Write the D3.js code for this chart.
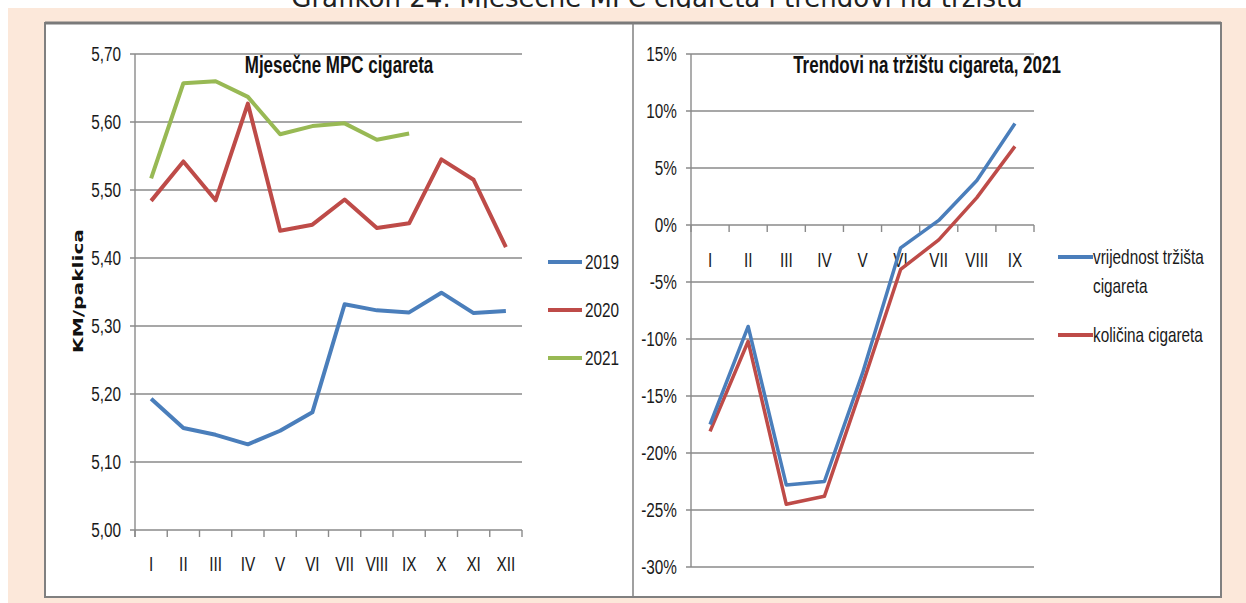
<!DOCTYPE html>
<html>
<head>
<meta charset="utf-8">
<script src="https://cdn.jsdelivr.net/npm/d3@7"></script>
<style>
  html, body { margin: 0; padding: 0; background: #ffffff; }
  svg { display: block; }
</style>
</head>
<body>
<div id="chart"></div>
<script>
// ---------- DATA ----------
const months = ["I","II","III","IV","V","VI","VII","VIII","IX","X","XI","XII"];
const mpc2019 = [5.193,5.150,5.140,5.126,5.146,5.173,5.332,5.323,5.320,5.349,5.319,5.322];
const mpc2020 = [5.484,5.542,5.485,5.627,5.440,5.449,5.486,5.444,5.451,5.545,5.515,5.416];
const mpc2021 = [5.517,5.657,5.660,5.637,5.582,5.594,5.598,5.574,5.583];
const mpcTicks = [5.0,5.1,5.2,5.3,5.4,5.5,5.6,5.7];

const trendMonths = ["I","II","III","IV","V","VI","VII","VIII","IX"];
const marketValue = [-17.5,-8.9,-22.8,-22.5,-13.0,-2.0,0.4,3.9,8.9];
const quantity    = [-18.1,-10.2,-24.5,-23.8,-14.0,-3.9,-1.3,2.4,6.9];
const trendTicks = [-30,-25,-20,-15,-10,-5,0,5,10,15];

const leftSeries = [
  {name:"2019", values: mpc2019, color:"#4a7ebb"},
  {name:"2020", values: mpc2020, color:"#be4b48"},
  {name:"2021", values: mpc2021, color:"#98b954"}
];
const rightSeries = [
  {name:["vrijednost tržišta","cigareta"], values: marketValue, color:"#4a7ebb"},
  {name:["količina cigareta"], values: quantity, color:"#be4b48"}
];

// ---------- SETUP ----------
const W = 1246, H = 603;
const FONT = "'Liberation Sans Narrow','Liberation Sans',Arial,sans-serif";
const SX = 0.82; // condensed look of the original narrow font
const svg = d3.select("#chart").append("svg").attr("width", W).attr("height", H);
const loc = d3.formatLocale({decimal:",", thousands:".", grouping:[3], currency:["",""]});
const fmt2 = loc.format(".2f");
const tf = (x,y,sy=1) => `translate(${x},${y}) scale(${SX},${sy})`;
const TXT = "#1a1a1a";

// header (partially hidden by the panel, as in the original)
svg.append("text").attr("x", 657).attr("y", 7)
  .attr("text-anchor","middle")
  .attr("font-family","'DejaVu Sans',Verdana,sans-serif").attr("font-size", 26)
  .attr("fill","#222")
  .text("Grafikon 24: Mjesečne MPC cigareta i trendovi na tržištu");

svg.append("rect").attr("x",8).attr("y",8).attr("width",W-8).attr("height",H-8).attr("fill","#fce8da");
svg.append("rect").attr("x",45).attr("y",23).attr("width",1176).attr("height",574)
  .attr("fill","#ffffff").attr("stroke","#808080").attr("stroke-width",2);
svg.append("line").attr("x1",45).attr("x2",1221).attr("y1",23).attr("y2",23).attr("stroke","#7a7a7a").attr("stroke-width",3);
svg.append("line").attr("x1",633).attr("x2",633).attr("y1",23).attr("y2",597).attr("stroke","#808080").attr("stroke-width",1.5);

const GRID = "#8a8a8a";

// ---------- LEFT CHART ----------
const xL = d3.scaleBand().domain(months).range([135,522]);
const yL = d3.scaleLinear().domain([5.0,5.7]).range([530,54]);
const gL = svg.append("g");

gL.selectAll("line.grid").data(mpcTicks).join("line")
  .attr("x1",130).attr("x2",522).attr("y1",d=>yL(d)).attr("y2",d=>yL(d))
  .attr("stroke",GRID).attr("stroke-width",1.4);
gL.append("line").attr("x1",135).attr("x2",135).attr("y1",yL(5.7)).attr("y2",yL(5.0)+7)
  .attr("stroke",GRID).attr("stroke-width",1.4);
gL.selectAll("line.xt").data(d3.range(months.length+1)).join("line")
  .attr("x1",i=>xL.range()[0]+i*xL.step()).attr("x2",i=>xL.range()[0]+i*xL.step())
  .attr("y1",yL(5.0)).attr("y2",yL(5.0)+7).attr("stroke",GRID).attr("stroke-width",1.4);

gL.selectAll("text.yl").data(mpcTicks).join("text")
  .attr("transform",d=>tf(121,yL(d),1.05)).attr("dy","0.35em").attr("text-anchor","end")
  .attr("font-family",FONT).attr("font-size",18.7).attr("fill",TXT)
  .text(d=>fmt2(d));
gL.selectAll("text.xl").data(months).join("text")
  .attr("transform",d=>tf(xL(d)+xL.bandwidth()/2,564,1.1)).attr("dy","0.35em").attr("text-anchor","middle")
  .attr("font-family",FONT).attr("font-size",18.7).attr("fill",TXT)
  .text(d=>d);

gL.append("text").attr("transform","translate(83,291) rotate(-90)")
  .attr("text-anchor","middle")
  .attr("font-family","'DejaVu Sans',Verdana,sans-serif").attr("font-weight","bold").attr("font-size",14)
  .attr("textLength",124).attr("lengthAdjust","spacingAndGlyphs")
  .attr("fill","#111").text("KM/paklica");

gL.append("text").attr("transform",tf(339,73,1.12)).attr("text-anchor","middle")
  .attr("font-family",FONT).attr("font-weight","bold").attr("font-size",20.7).attr("fill","#111")
  .text("Mjesečne MPC cigareta");

const lineL = d3.line().x((d,i)=>xL(months[i])+xL.bandwidth()/2).y(d=>yL(d));
gL.selectAll("path.s").data(leftSeries).join("path")
  .attr("d",d=>lineL(d.values)).attr("fill","none").attr("stroke",d=>d.color)
  .attr("stroke-width",4).attr("stroke-linejoin","round").attr("stroke-linecap","butt");

const legL = gL.selectAll("g.leg").data(leftSeries).join("g")
  .attr("transform",(d,i)=>`translate(548,${262+i*48})`);
legL.append("line").attr("x1",0).attr("x2",34).attr("stroke",d=>d.color).attr("stroke-width",4);
legL.append("text").attr("transform",tf(37,0,1.08)).attr("dy","0.35em")
  .attr("font-family",FONT).attr("font-size",18.7).attr("fill",TXT).text(d=>d.name);

// ---------- RIGHT CHART ----------
const xR = d3.scaleBand().domain(trendMonths).range([691,1034]);
const yR = d3.scaleLinear().domain([-30,15]).range([567,54]);
const gR = svg.append("g");

gR.selectAll("line.grid").data(trendTicks).join("line")
  .attr("x1",686).attr("x2",1034).attr("y1",d=>yR(d)).attr("y2",d=>yR(d))
  .attr("stroke",GRID).attr("stroke-width",1.4);
gR.append("line").attr("x1",691).attr("x2",691).attr("y1",yR(15)).attr("y2",yR(-30))
  .attr("stroke",GRID).attr("stroke-width",1.4);
gR.selectAll("line.xt").data(d3.range(trendMonths.length+1)).join("line")
  .attr("x1",i=>xR.range()[0]+i*xR.step()).attr("x2",i=>xR.range()[0]+i*xR.step())
  .attr("y1",yR(0)).attr("y2",yR(0)+7).attr("stroke",GRID).attr("stroke-width",1.4);

gR.selectAll("text.yl").data(trendTicks).join("text")
  .attr("transform",d=>tf(677,yR(d),1.05)).attr("dy","0.35em").attr("text-anchor","end")
  .attr("font-family",FONT).attr("font-size",18.7).attr("fill",TXT)
  .text(d=>d+"%");
gR.selectAll("text.xl").data(trendMonths).join("text")
  .attr("transform",d=>tf(xR(d)+xR.bandwidth()/2,260,1.1)).attr("dy","0.35em").attr("text-anchor","middle")
  .attr("font-family",FONT).attr("font-size",18.7).attr("fill",TXT)
  .text(d=>d);

gR.append("text").attr("transform",tf(927,73,1.12)).attr("text-anchor","middle")
  .attr("font-family",FONT).attr("font-weight","bold").attr("font-size",20.7).attr("fill","#111")
  .text("Trendovi na tržištu cigareta, 2021");

const lineR = d3.line().x((d,i)=>xR(trendMonths[i])+xR.bandwidth()/2).y(d=>yR(d));
gR.selectAll("path.s").data(rightSeries.slice().reverse()).join("path")
  .attr("d",d=>lineR(d.values)).attr("fill","none").attr("stroke",d=>d.color)
  .attr("stroke-width",3.5).attr("stroke-linejoin","round");

const legR = gR.selectAll("g.leg").data(rightSeries).join("g")
  .attr("transform",(d,i)=>`translate(1058,${i===0?257:335})`);
legR.append("line").attr("x1",0).attr("x2",35).attr("stroke",d=>d.color).attr("stroke-width",4);
legR.each(function(d){
  const t = d3.select(this).append("text").attr("transform",tf(35,0,1.08))
    .attr("font-family",FONT).attr("font-size",18.7).attr("fill",TXT);
  d.name.forEach((s,j)=>t.append("tspan").attr("x",0).attr("dy", j===0?"0.35em":"27px").text(s));
});
</script>
</body>
</html>
